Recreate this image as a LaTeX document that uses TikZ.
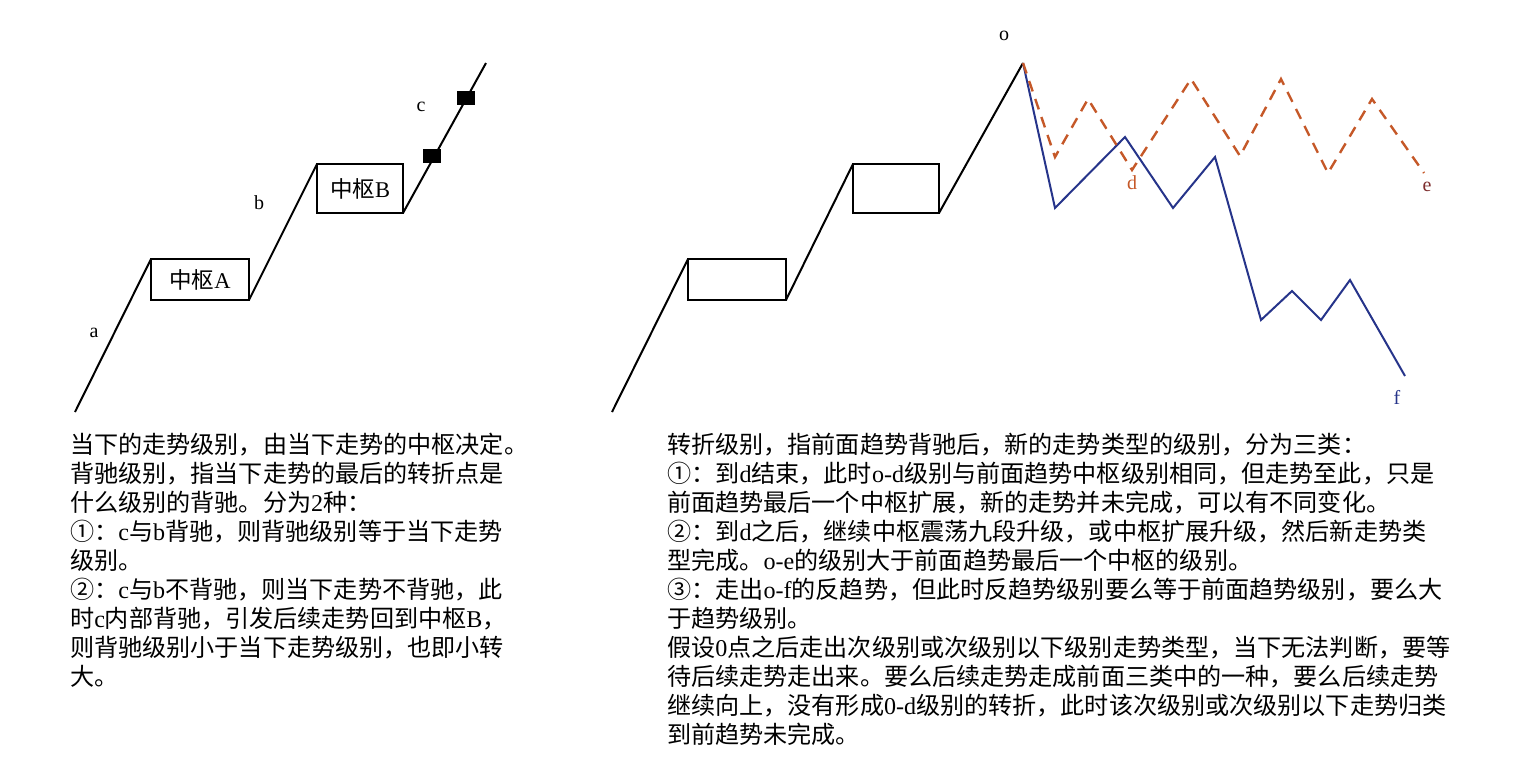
\documentclass[tikz,border=0pt]{standalone}
\usepackage{fontspec}
\setmainfont{Liberation Serif}
\newfontfamily\cjk{Noto Sans CJK SC}
\newcommand\latn[1]{{\rmfamily #1}}
\definecolor{trendblue}{RGB}{38,52,138}
\definecolor{dashorange}{RGB}{197,88,40}
\definecolor{ebrown}{RGB}{125,45,45}
\begin{document}
\begin{tikzpicture}[x=1pt,y=-1pt,
  trend/.style={line width=2pt, black, line join=miter},
  zsbox/.style={draw, line width=2pt, inner sep=0pt, outer sep=0pt, font=\cjk\fontsize{22.5}{22.5}\selectfont},
  blk/.style={fill=black, minimum width=18pt, minimum height=14pt, inner sep=0pt, outer sep=0pt},
  lbl/.style={font=\fontsize{20}{20}\selectfont, inner sep=0pt},
  txt/.style={anchor=base west, inner sep=0pt, font=\cjk\fontsize{24.1}{29}\selectfont},
  bluepath/.style={line width=2pt, trendblue},
  orangepath/.style={line width=2.4pt, dashorange, dash pattern=on 11pt off 8pt}]
\useasboundingbox (0,0) rectangle (1531,777);

% ---------- left chart ----------
\coordinate (la0) at (75,412);
\node[zsbox, minimum width=98pt, minimum height=41pt] (boxA) at (200,279.5) {中枢\latn{A}};
\node[zsbox, minimum width=86pt, minimum height=49pt] (boxB) at (360,188.5) {中枢\latn{B}};
\coordinate (lend) at (486,63);
\draw[trend] (la0) -- (boxA.north west);
\draw[trend] (boxA.south east) -- (boxB.north west);
\draw[trend] (boxB.south east) -- (lend);
\node[blk] (sq1) at (432,156) {};
\node[blk] (sq2) at (466,98) {};
\node[lbl] (la) at (94,333) {a};
\node[lbl] (lb) at (259,203) {b};
\node[lbl] (lc) at (421,107) {c};

% ---------- right chart ----------
\coordinate (ra0) at (612,412);
\node[zsbox, minimum width=98pt, minimum height=41pt] (rboxA) at (737,279.5) {};
\node[zsbox, minimum width=86pt, minimum height=49pt] (rboxB) at (896,188.5) {};
\coordinate (o) at (1023,63);
\draw[trend] (ra0) -- (rboxA.north west);
\draw[trend] (rboxA.south east) -- (rboxB.north west);
\draw[trend] (rboxB.south east) -- (o);
\node[lbl] (lo) at (1004,36) {o};

% blue path o-f
\coordinate (b1) at (1055,208);
\coordinate (b2) at (1125,137);
\coordinate (b3) at (1173,208);
\coordinate (b4) at (1215,157);
\coordinate (b5) at (1261,320);
\coordinate (b6) at (1292,291);
\coordinate (b7) at (1321,320);
\coordinate (b8) at (1350,280);
\coordinate (fend) at (1405,376);
\draw[bluepath] (o) -- (b1) -- (b2) -- (b3) -- (b4) -- (b5) -- (b6) -- (b7) -- (b8) -- (fend);
\node[lbl, text=trendblue] (lf) at (1397,397) {f};

% orange dashed path o-e
\coordinate (q1) at (1055,157);
\coordinate (q2) at (1088,99);
\coordinate (dpt) at (1132,170);
\coordinate (q4) at (1191,79);
\coordinate (q5) at (1240,156);
\coordinate (q6) at (1281,79);
\coordinate (q7) at (1328,173);
\coordinate (q8) at (1372,99);
\coordinate (eend) at (1424,173);
\draw[orangepath] (o) -- (q1) -- (q2) -- (dpt) -- (q4) -- (q5) -- (q6) -- (q7) -- (q8) -- (eend);
\node[lbl, text=dashorange] (ld) at (1132,183) {d};
\node[lbl, text=ebrown] (le) at (1427,187) {e};

% ---------- left text ----------
\node[txt] (l1) at (70,453) {当下的走势级别，由当下走势的中枢决定。};
\node[txt] (l2) at (70,482) {背驰级别，指当下走势的最后的转折点是};
\node[txt] (l3) at (70,511) {什么级别的背驰。分为\latn{2}种：};
\node[txt] (l4) at (70,540) {①：\latn{c}与\latn{b}背驰，则背驰级别等于当下走势};
\node[txt] (l5) at (70,569) {级别。};
\node[txt] (l6) at (70,598) {②：\latn{c}与\latn{b}不背驰，则当下走势不背驰，此};
\node[txt] (l7) at (70,627) {时\latn{c}内部背驰，引发后续走势回到中枢\latn{B}，};
\node[txt] (l8) at (70,656) {则背驰级别小于当下走势级别，也即小转};
\node[txt] (l9) at (70,685) {大。};

% ---------- right text ----------
\node[txt] (r1) at (667,453) {转折级别，指前面趋势背驰后，新的走势类型的级别，分为三类：};
\node[txt] (r2) at (667,482) {①：到\latn{d}结束，此时\latn{o-d}级别与前面趋势中枢级别相同，但走势至此，只是};
\node[txt] (r3) at (667,511) {前面趋势最后一个中枢扩展，新的走势并未完成，可以有不同变化。};
\node[txt] (r4) at (667,540) {②：到\latn{d}之后，继续中枢震荡九段升级，或中枢扩展升级，然后新走势类};
\node[txt] (r5) at (667,569) {型完成。\latn{o-e}的级别大于前面趋势最后一个中枢的级别。};
\node[txt] (r6) at (667,598) {③：走出\latn{o-f}的反趋势，但此时反趋势级别要么等于前面趋势级别，要么大};
\node[txt] (r7) at (667,627) {于趋势级别。};
\node[txt] (r8) at (667,656) {假设\latn{0}点之后走出次级别或次级别以下级别走势类型，当下无法判断，要等};
\node[txt] (r9) at (667,685) {待后续走势走出来。要么后续走势走成前面三类中的一种，要么后续走势};
\node[txt] (r10) at (667,714) {继续向上，没有形成\latn{0-d}级别的转折，此时该次级别或次级别以下走势归类};
\node[txt] (r11) at (667,743) {到前趋势未完成。};
\end{tikzpicture}
\end{document}
